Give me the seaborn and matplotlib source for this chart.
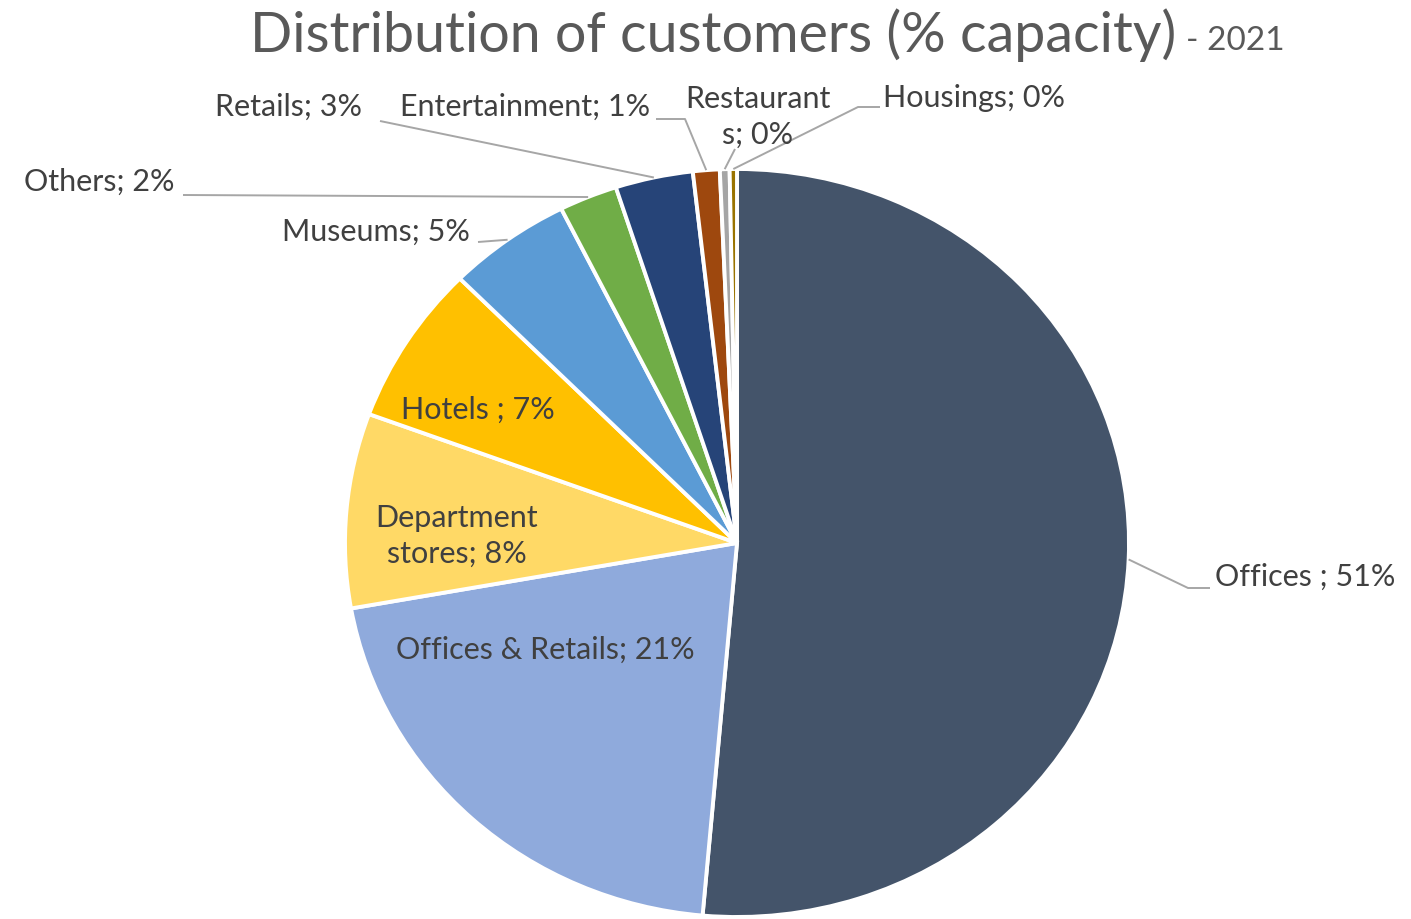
import numpy as np
import matplotlib.pyplot as plt
import seaborn as sns

sns.set_theme(style='white')
plt.rcParams['font.family'] = ['Lato', 'DejaVu Sans']

# data (share of customers, %)
categories = ['Offices ', 'Offices & Retails', 'Department stores', 'Hotels ', 'Museums',
              'Others', 'Retails', 'Entertainment', 'Restaurants', 'Housings']
shares = [51.4, 20.8, 8.4, 6.9, 5.1, 2.4, 3.2, 1.1, 0.4, 0.3]
colors = ['#44546A', '#8FAADC', '#FFD966', '#FFC000', '#5B9BD5',
          '#70AD47', '#264478', '#9E480E', '#A5A5A5', '#997300']
# how the names wrap in the labels
wrapped = {'Department stores': 'Department\nstores', 'Restaurants': 'Restaurant\ns'}

W, H = 1411, 920
CX, CY, RX, RY = 737, 544, 392, 374


def px(x, y):
    # pixel position -> data coords of the pie axes
    return (x - CX) / RX, (CY - y) / RY


fig = plt.figure(figsize=(W / 100, H / 100), dpi=100)
ax = fig.add_axes([0, 0, 1, 1])
wedges, _ = ax.pie(shares, colors=colors, startangle=90, counterclock=False,
                   wedgeprops=dict(edgecolor='white', linewidth=2.8))
ax.set_aspect('auto')
ax.set_xlim(-CX / RX, (W - CX) / RX)
ax.set_ylim(-(H - CY) / RY, CY / RY)
ax.axis('off')

labels = []
for name, v in zip(categories, shares):
    labels.append(f"{wrapped.get(name, name)}; {round(v)}%")

txt = dict(color='#404040', fontsize=22)
line = dict(color='#A6A6A6', lw=1.4, solid_capstyle='butt')

# label placement: (text pos, ha, leader path points before the wedge edge or None)
place = {
    0: ((1215, 577), 'left', [(1210, 589), (1188, 589)]),
    1: ((545, 650), 'center', None),
    2: ((457, 536), 'center', None),
    3: ((478, 410), 'center', None),
    4: ((470, 232), 'right', [(478, 243)]),
    5: ((175, 182), 'right', [(183, 196)]),
    6: ((362, 107), 'right', [(380, 122)]),
    7: ((650, 107), 'right', [(656, 120), (685, 120)]),
    8: ((758, 117), 'center', [(735, 150)]),
    9: ((883, 98), 'left', [(880, 108), (858, 108)]),
}

for i, w in enumerate(wedges):
    (tx, ty), ha, path = place[i]
    ax.text(*px(tx, ty), labels[i], ha=ha, va='center', multialignment='center',
            linespacing=1.35, **txt)
    if path is not None:
        a = np.deg2rad((w.theta1 + w.theta2) / 2)
        pts = [px(x, y) for x, y in path] + [(np.cos(a), np.sin(a))]
        ax.plot([p[0] for p in pts], [p[1] for p in pts], **line)

fig.text(1176 / W, 1 - 52 / H, 'Distribution of customers (% capacity)', ha='right',
         va='baseline', fontsize=40, color='#595959')
fig.text(1186 / W, 1 - 50 / H, '- 2021', ha='left', va='baseline', fontsize=24,
         color='#595959')

fig.savefig('out.png', dpi=100)
